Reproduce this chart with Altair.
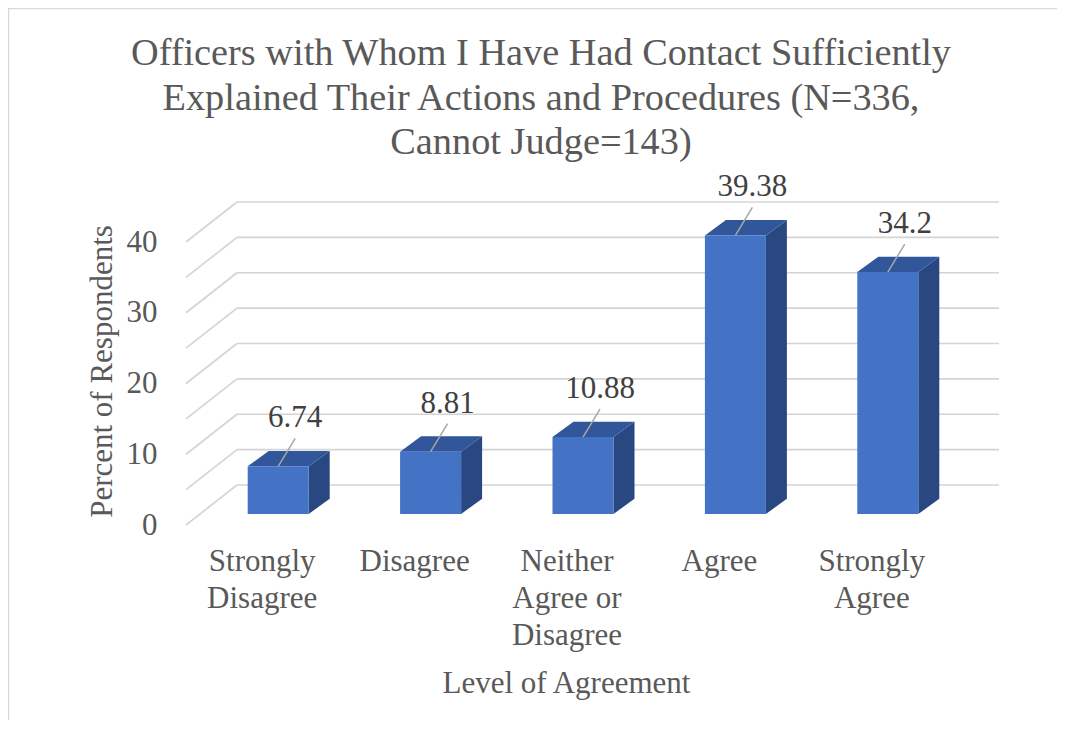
import altair as alt
import pandas as pd

# ---------------- data ----------------
categories = ["Strongly\nDisagree", "Disagree", "Neither\nAgree or\nDisagree", "Agree", "Strongly\nAgree"]
values = [6.74, 8.81, 10.88, 39.38, 34.2]
value_labels = ["6.74", "8.81", "10.88", "39.38", "34.2"]
y_ticks = [0, 5, 10, 15, 20, 25, 30, 35, 40]

title_text = ("Officers with Whom I Have Had Contact Sufficiently\n"
              "Explained Their Actions and Procedures (N=336,\n"
              "Cannot Judge=143)")
x_title = "Level of Agreement"
y_title = "Percent of Respondents"

# ---------------- geometry (pixels -> data units) ----------------
W, H = 762, 283
N = len(categories)
PX_X = W / N          # pixels per x unit
PX_Y = H / 40.0       # pixels per y unit
WALL_DX = 51 / PX_X
WALL_DY = 40 / PX_Y
BAR_SHIFT_X = 16 / PX_X
BAR_BASE_Y = 11 / PX_Y
BAR_HALF = 30.5 / PX_X
DEPTH_X = 21 / PX_X
DEPTH_Y = 15.3 / PX_Y
LEAD_DX = 17 / PX_X
LEAD_DY = 28 / PX_Y
LABEL_DY = 39 / PX_Y

FONT = "'Liberation Serif', 'Times New Roman', Times, serif"
GRAY = "#595959"
GRID = "#D4D4D4"
FRONT = "#4472C4"
TOP = "#31569A"
SIDE = "#294780"

# ---------------- tables ----------------
grid_rows, diag_rows = [], []
for t in y_ticks:
    grid_rows.append({"x": WALL_DX, "x2": N + WALL_DX, "y": t + WALL_DY, "y2": t + WALL_DY})
    diag_rows.append({"x": 0.0, "x2": WALL_DX, "y": t, "y2": t + WALL_DY})
grid_df = pd.DataFrame(grid_rows + diag_rows)

front_rows, top_rows, side_rows, lead_rows, lab_rows, cat_rows = [], [], [], [], [], []
for i, (c, v, lab) in enumerate(zip(categories, values, value_labels)):
    center = i + 0.5
    cx = center + BAR_SHIFT_X
    xl, xr = cx - BAR_HALF, cx + BAR_HALF
    base = BAR_BASE_Y
    top = v + BAR_BASE_Y
    front_rows.append({"x": xl, "x2": xr, "y": base, "y2": top})
    for xx, up, lo in [(xl, top, top), (xl + DEPTH_X, top + DEPTH_Y, top),
                       (xr, top + DEPTH_Y, top), (xr + DEPTH_X, top + DEPTH_Y, top + DEPTH_Y)]:
        top_rows.append({"bar": i, "x": xx, "y": up, "y2": lo})
    for xx, up, lo in [(xr, top, base), (xr + DEPTH_X, top + DEPTH_Y, base + DEPTH_Y)]:
        side_rows.append({"bar": i, "x": xx, "y": up, "y2": lo})
    lead_rows.append({"x": cx, "x2": cx + LEAD_DX, "y": top, "y2": top + LEAD_DY})
    lab_rows.append({"x": cx + LEAD_DX, "y": top + LABEL_DY, "label": lab})
    cat_rows.append({"x": center, "label": c})

front_df = pd.DataFrame(front_rows)
top_df = pd.DataFrame(top_rows)
side_df = pd.DataFrame(side_rows)
lead_df = pd.DataFrame(lead_rows)
lab_df = pd.DataFrame(lab_rows)
cat_df = pd.DataFrame(cat_rows)
title_df = pd.DataFrame({"label": [title_text]})

xs = alt.Scale(domain=[0, N], nice=False, zero=False)
ys = alt.Scale(domain=[0, 40], nice=False, zero=False)

# ---------------- layers ----------------
grid = alt.Chart(grid_df).mark_rule(color=GRID, strokeWidth=1.6).encode(
    x=alt.X("x:Q", scale=xs,
            axis=alt.Axis(labels=False, ticks=False, domain=False, grid=False,
                          title=x_title, titleFont=FONT, titleFontSize=31,
                          titleFontWeight="normal", titleColor=GRAY,
                          titleBaseline="alphabetic", titleY=167, titleX=380)),
    x2="x2:Q",
    y=alt.Y("y:Q", scale=ys,
            axis=alt.Axis(values=y_ticks, ticks=False, domain=False, grid=False,
                          labelFont=FONT, labelFontSize=31, labelColor=GRAY,
                          labelPadding=29, title=y_title, titleFont=FONT,
                          titleFontSize=31, titleFontWeight="normal", titleColor=GRAY,
                          titleAngle=270, titleX=-84, titleY=129,
                          titleAlign="center", titleBaseline="middle")),
    y2="y2:Q",
)

side = alt.Chart(side_df).mark_area(color=SIDE, interpolate="linear").encode(
    x=alt.X("x:Q", scale=xs), y=alt.Y("y:Q", scale=ys, stack=None), y2="y2:Q",
    detail="bar:N",
)
topf = alt.Chart(top_df).mark_area(color=TOP, interpolate="linear").encode(
    x=alt.X("x:Q", scale=xs), y=alt.Y("y:Q", scale=ys, stack=None), y2="y2:Q",
    detail="bar:N",
)
front = alt.Chart(front_df).mark_rect(color=FRONT).encode(
    x=alt.X("x:Q", scale=xs), x2="x2:Q", y=alt.Y("y:Q", scale=ys), y2="y2:Q",
)
leaders = alt.Chart(lead_df).mark_rule(color="#A6A6A6", strokeWidth=1.5).encode(
    x=alt.X("x:Q", scale=xs), x2="x2:Q", y=alt.Y("y:Q", scale=ys), y2="y2:Q",
)
labels = alt.Chart(lab_df).mark_text(
    font=FONT, fontSize=31, color="#404040", align="center", baseline="alphabetic"
).encode(x=alt.X("x:Q", scale=xs), y=alt.Y("y:Q", scale=ys), text="label:N")

cats = alt.Chart(cat_df).mark_text(
    font=FONT, fontSize=31, color=GRAY, align="center", baseline="alphabetic",
    lineBreak="\n", lineHeight=37,
).encode(x=alt.X("x:Q", scale=xs), y=alt.value(329), text="label:N")

title = alt.Chart(title_df).mark_text(
    font=FONT, fontSize=38.3, color=GRAY, align="center", baseline="alphabetic",
    lineBreak="\n", lineHeight=44.5,
).encode(x=alt.value(355), y=alt.value(-177), text="label:N")

border = alt.Chart(pd.DataFrame({"a": [0]})).mark_rect(
    fill="transparent", stroke="#D9D9D9", strokeWidth=1.5
).encode(x=alt.value(-177.5), x2=alt.value(1000), y=alt.value(-233.5), y2=alt.value(800))

chart = alt.layer(border, grid, side, topf, front, leaders, labels, cats, title).properties(
    width=W, height=H,
    autosize=alt.AutoSizeParams(type="none"),
    padding={"left": 178, "top": 234, "right": 109, "bottom": 195},
).configure(background="white").configure_view(strokeWidth=0)

chart.save("out.html", embed_options={"renderer": "svg", "actions": False})
